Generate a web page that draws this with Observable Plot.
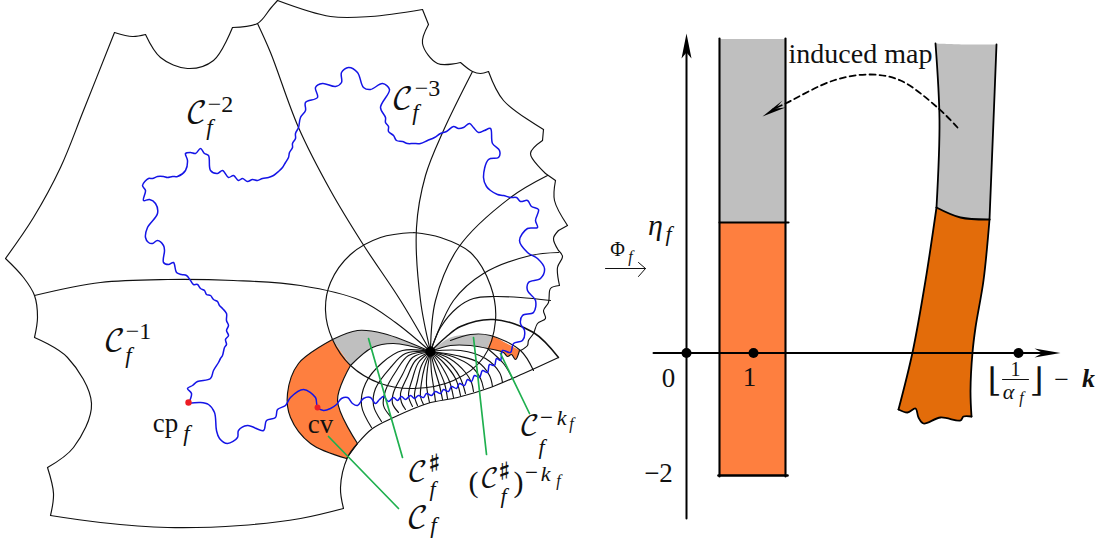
<!DOCTYPE html>
<html><head><meta charset="utf-8">
<script src="https://cdn.jsdelivr.net/npm/d3@7"></script>
<script src="https://cdn.jsdelivr.net/npm/@observablehq/plot@0.6"></script>
<style>html,body{margin:0;padding:0;background:#fff}svg{display:block}</style>
</head><body><div id="c"></div>
<script>
const center=[430,351];
// outer boundary, arc by arc
const outerArcs=[
 [[50,515],[53,493],[47,467]],
 [[47,467],[73,447],[91,403],[67,357],[34,337]],
 [[34,337],[37,317],[34,295],[23,277],[5,258]],
 [[5,258],[33,217],[60,167],[83,110],[114,32]],
 [[114,32],[132,36],[145,34]],
 [[145,34],[160,57],[187,68],[213,60],[232,27]],
 [[232,27],[257,23],[270,8],[277,0]],
 [[277,0],[330,16],[370,16],[422,9]],
 [[422,9],[428,24]],
 [[428,24],[422,43],[437,63],[460,62]],
 [[460,62],[472,71],[480,73],[488,71]],
 [[488,71],[503,100],[543,129]],
 [[543,129],[542,140]],
 [[542,140],[530,153],[545,173]],
 [[545,173],[555,180]],
 [[555,180],[554,200],[567,225]],
 [[567,225],[558,230]],
 [[558,230],[553,238],[558,250]],
 [[558,250],[562,256],[557,267],[559,285]],
 [[559,285],[550,288],[548,302],[543,310],[545,318],[537,323],[533,333],[528,340],[527,345],[520,350]],
 [[50,515],[100,522],[167,527],[240,525],[300,518],[343,508]],
 [[343,508],[340,487],[347,457],[357,443]],
];
const lowerEdge=[[357,443],[372,428],[393,417],[427,403],[457,397],[490,387],[523,373],[558,357]];
const bandOuter=[center,[445,337],[460,326],[493,319],[533,332],[558,357]];
const bandMiddle=[[450,340],[470,334],[490,335],[520,350],[533,370]];
const bandInner=[[487,348],[503,363],[512,378]];
const spokes=[
 [[257,23],[270,52],[298,127],[330,190],[362,243],[400,300],center],
 [[472,71],[443,130],[425,175],[416,227],[420,300],center],
 [[547,175],[510,197],[458,247],[435,300],center],
 [[558,252],[530,255],[483,273],[453,300],center],
 [[550,300],[520,297],[493,296],[473,298],[457,307],[440,327],center],
 [[34,295],[100,282],[167,279],[233,280],[300,285],[360,300],[395,322],center],
];
const bigCircle=[[413,232],[380,237],[350,254],[330,282],[325,310],[332,339],[350,365],[380,383],[413,388],[453,380],[483,357],[495,320],[490,285],[470,252],[440,237],[413,232]];
const rungs=[
 [center,[402,350],[382,362],[365,383],[361,405],[371,427]],
 [center,[405,353],[390,367],[375,388],[373,405],[381,421]],
 [center,[408,355],[396,370],[385,390],[383,405],[390,416]],
 [center,[412,357],[402,374],[393,392],[392,403],[398,412]],
 [center,[415,360],[407,376],[400,393],[401,402],[405,409]],
 [center,[418,362],[412,378],[408,395],[412,406]],
 [center,[421,365],[417,380],[414,395],[417,405]],
 [center,[424,367],[421,382],[420,396],[423,404]],
 [center,[427,368],[426,384],[429,402]],
 [center,[431,372],[433,386],[435,401]],
 [center,[434,368],[439,385],[442,399]],
 [center,[437,366],[444,383],[447,398]],
 [center,[440,364],[449,381],[453,397]],
 [center,[443,362],[455,378],[460,395]],
 [center,[446,360],[459,376],[465,393]],
 [center,[449,358],[465,372],[471,382],[473,391]],
 [center,[452,356],[471,366],[480,378],[483,388]],
 [center,[456,355],[478,362],[489,375],[492,386]],
 [center,[460,350],[485,358],[499,372],[502,382]],
];
// filled pieces
const orangeOuter=[[346,458],[310,443],[290,417],[287,393],[298,363],[332,339]];
const orangeTop=[[332,339],[350,365]];
const orangeInner=[[350,365],[337,400],[357,443]];
const orangeFoot=[[357,443],[346,458]];
const grayLeftTop=[[332,339],[357,330],[383,333],center];
const grayLeftBottom=[center,[393,343],[372,347],[350,365]];
const grayRightTop=[center,[450,337],[470,334],[492,335]];
const grayRightEnd=[[492,335],[487,348]];
const grayRightBottom=[[487,348],[470,345],[450,345],center];
const smallOrangeTop=[[492,335],[519,350]];
const smallOrangeFoot=[[519,350],[515,359],[511,354],[507,356],[503,352],[487,348]];
// blue curve
const blueCurve=[[188,403],[191,393],[187,388],[192,385],[197,381],[210,378],[213,370],[218,362],[220,358],[222,355],[224,347],[226,344],[225,339],[228,335],[226,330],[228,325],[226,320],[226,313],[222,308],[219,305],[217,301],[213,299],[210,295],[206,294],[204,290],[200,288],[197,284],[193,284],[190,280],[186,275],[181,274],[176,272],[173,262],[168,264],[163,262],[164,250],[163,245],[157,240],[152,243],[148,242],[145,237],[147,227],[157,213],[155,203],[149,199],[143,200],[145,190],[142,185],[148,178],[152,178],[157,176],[163,176],[167,177],[172,176],[177,176],[185,170],[187,160],[185,153],[190,152],[195,153],[200,148],[204,153],[208,155],[210,170],[217,173],[222,170],[228,177],[233,175],[238,180],[242,178],[247,181],[252,179],[257,180],[262,178],[268,177],[273,175],[278,171],[282,167],[285,162],[288,157],[289,152],[292,147],[292,143],[295,138],[295,133],[298,127],[300,117],[305,110],[305,102],[317,97],[315,87],[322,83],[335,86],[341,82],[341,72],[348,67],[357,72],[363,87],[370,89],[382,83],[389,89],[380,107],[385,117],[385,122],[388,126],[388,131],[393,135],[396,140],[402,141],[407,143],[413,143],[420,143],[427,140],[434,137],[440,133],[446,131],[453,126],[458,128],[463,127],[469,123],[473,127],[478,132],[484,130],[490,128],[492,143],[499,150],[498,157],[488,159],[483,177],[486,186],[490,190],[497,194],[503,195],[510,197],[516,197],[520,201],[527,200],[531,206],[538,209],[535,220],[537,227],[527,228],[519,240],[527,252],[537,258],[544,268],[540,278],[528,282],[527,290],[535,300],[533,312],[522,315],[520,323],[524,330],[522,340],[513,343],[510,352],[502,350],[500,360],[496,358],[494,365],[489,364],[487,372],[482,370],[479,377],[474,375],[471,381],[467,379],[464,385],[459,383],[456,388],[451,386],[448,391],[443,389],[440,393],[435,391],[431,395],[426,393],[423,397],[418,395],[414,398],[410,395],[405,399],[401,396],[397,400],[393,397],[388,401],[383,396],[379,399],[375,403],[370,397],[363,398],[357,405],[352,403],[347,397],[341,398],[336,404],[330,408],[323,410],[317,407],[315,397],[303,389],[290,397],[285,405],[277,409],[275,417],[266,420],[263,430],[247,425],[238,430],[237,437],[227,443],[219,438],[216,430],[214,412],[208,404],[200,402],[188,403]];
const markedPoints=[[188,402,4.5],[317,407,3.8]];
// green leader lines
const leaders=[[[368,338],[402,457]],[[473,337],[486,454]],[[500,353],[529,413]],[[328,436],[398,508]]];
// right panel
const yAxisLine=[[686,518],[686,50]];
const xAxisLine=[[653,352.5],[1045,352.5]];
const yHead=[[681,58],[686,33],[691,58],[686,52],[681,58]];
const xHead=[[1034,348],[1060,352.5],[1034,357],[1042,352.5],[1034,348]];
const stripBars=[{x1:719,x2:785,y1:39,y2:222,c:"#bfbfbf"},{x1:719,x2:785,y1:222,y2:475,c:"#fe7f3f"}];
const stripLines=[[[719,38],[719,476]],[[785,38],[785,476]],[[718,475],[787,475]],[[719,222],[788,222]]];
const curveLeftTop=[[935,43],[939,120],[936,207]];
const curveLeftLow=[[936,207],[925,280],[912,352],[898,409]];
const curveRightTop=[[996,44],[993,120],[989,219]];
const curveRightLow=[[989,219],[983,280],[975,327],[972,352],[970,390],[971,416]];
const curveCut=[[936,207],[960,217],[989,219]];
const curveTopEdge=[[935,43],[965,44],[996,44]];
const curveFoot=[[898,409],[907,412],[915,408],[918,417],[923,423],[940,417],[960,420],[963,416],[971,416]];
const axisDots=[[686,352.5],[753,352.5],[1018,352.5]];
const dashed=[[957,127],[937,107],[900,80],[870,74],[833,80],[785,103],[772,109]];
const dashHead=[[762,116],[782,100],[775,108],[785,107],[762,116]];
const phiArrow=[[605,268],[645,268]];
const phiHead=[[638,262],[645,268],[638,276]];
const fractionBar=[[1002,379],[1028,379]];
// labels: text, x, y, size
const cal='"DejaVu Math TeX Gyre","Liberation Serif",serif';
const labelsCal=[["𝒞",196,112,30],["𝒞",402,98,30],["𝒞",114,340,30],["𝒞",417,472,28],["𝒞",489,478,26],["𝒞",529,426,28],["𝒞",417,517,30],["⌊",993,379,34],["⌋",1037,379,34],["♯",434,461,20],["♯",504,469,20]];
const labelsItalic=[["f",209,127,23],["f",415,112,23],["f",128,355,23],["f",186,433,23],["f",432,488,22],["f",503,495,22],["f",541,446,22],["f",433,525,23],["f",668,233,22],["f",630,256,16],["f",1021,397,16],["f",571,423,16],["f",558,480,16],["k",561,417,22],["k",545,473,22],["η",655,225,30],["α",1008,391,22]];
const labelsRoman=[["−2",220,104,24],["−3",427,88,24],["−1",138,331,24],["cp",165,423,27],["cv",320,424,27],["(",473,482,30],[")",518,482,30],["−",546,417,23],["−",531,472,23],["Φ",617,249,20],["0",668,378,27],["1",749,377,27],["−2",658,473,27],["1",1015,369,20],["−",1061,379,26],["induced map",860,54,28]];
const labelsBold=[["k",1088,378,26]];

const fam='"Liberation Serif",serif';
const L=(p,o={})=>Plot.line(p,{x:d=>d[0],y:d=>d[1],curve:"catmull-rom",stroke:"#111",strokeWidth:1.15,...o});
const F=(p,c)=>Plot.line(p,{x:d=>d[0],y:d=>d[1],curve:"catmull-rom",fill:c,stroke:"none"});
const T=(arr,o)=>Plot.text(arr,{x:d=>d[1],y:d=>d[2],text:d=>d[0],fontSize:d=>d[3],fill:"#111",textAnchor:"middle",lineAnchor:"middle",...o});
const orange="#fe7f3f", gray="#bfbfbf", darkOrange="#e36c0a";
const marks=[
 F([...orangeOuter,...orangeTop,...orangeInner,...orangeFoot],orange),
 F([...grayLeftTop,...grayLeftBottom],gray),
 F([...grayRightTop,...grayRightEnd,...grayRightBottom],gray),
 F([...smallOrangeTop,...smallOrangeFoot,...grayRightEnd.slice().reverse()],orange),
 ...outerArcs.map(a=>L(a)),
 ...spokes.map(a=>L(a)),
 ...rungs.map(a=>L(a)),
 L(bigCircle),L(lowerEdge),L(bandOuter,{strokeWidth:1.5}),L(bandMiddle),L(bandInner),
 L(orangeOuter),L(orangeInner),L(orangeFoot),L(grayLeftTop),L(grayLeftBottom),L(grayRightBottom),L(smallOrangeFoot),
 Plot.dot([center],{x:d=>d[0],y:d=>d[1],r:5,fill:"#000"}),
 L(blueCurve,{stroke:"#1414e6",strokeWidth:1.5}),
 Plot.dot(markedPoints,{x:d=>d[0],y:d=>d[1],r:d=>d[2],fill:"#ed1c24"}),
 ...leaders.map(a=>L(a,{curve:"linear",stroke:"#1fb04f",strokeWidth:1.7})),
 // right panel
 Plot.rect(stripBars,{x1:"x1",x2:"x2",y1:"y1",y2:"y2",fill:"c"}),
 F([...curveLeftTop,...curveCut,...curveRightTop.slice().reverse(),...curveTopEdge.slice().reverse()],gray),
 F([...curveLeftLow,...curveFoot,...curveRightLow.slice().reverse(),...curveCut.slice().reverse()],darkOrange),
 ...stripLines.map((a,i)=>L(a,{curve:"linear",strokeWidth:i==2?2.6:2.1,stroke:"#000"})),
 ...[curveLeftTop,curveLeftLow,curveRightTop,curveRightLow,curveCut,curveFoot].map(a=>L(a,{strokeWidth:1.8,stroke:"#000"})),
 L(yAxisLine,{curve:"linear",strokeWidth:2,stroke:"#000"}),L(xAxisLine,{curve:"linear",strokeWidth:2,stroke:"#000"}),
 Plot.line(yHead,{x:d=>d[0],y:d=>d[1],fill:"#000",stroke:"none"}),
 Plot.line(xHead,{x:d=>d[0],y:d=>d[1],fill:"#000",stroke:"none"}),
 Plot.dot(axisDots,{x:d=>d[0],y:d=>d[1],r:5,fill:"#000"}),
 L(dashed,{strokeDasharray:"6,4",strokeWidth:1.8,stroke:"#000"}),
 Plot.line(dashHead,{x:d=>d[0],y:d=>d[1],fill:"#000",stroke:"none"}),
 L(phiArrow,{curve:"linear",strokeWidth:1}),L(phiHead,{strokeWidth:1,curve:"linear"}),
 L(fractionBar,{curve:"linear",strokeWidth:1}),
 T(labelsCal,{fontFamily:cal}),
 T(labelsItalic,{fontFamily:fam,fontStyle:"italic"}),
 T(labelsRoman,{fontFamily:fam}),
 T(labelsBold,{fontFamily:fam,fontStyle:"italic",fontWeight:"bold"}),
];
document.getElementById("c").append(Plot.plot({width:1105,height:540,margin:0,
 x:{domain:[0,1105],range:[0,1105],axis:null},y:{domain:[0,540],range:[0,540],axis:null},
 style:{background:"#fff"},marks}));
</script></body></html>
